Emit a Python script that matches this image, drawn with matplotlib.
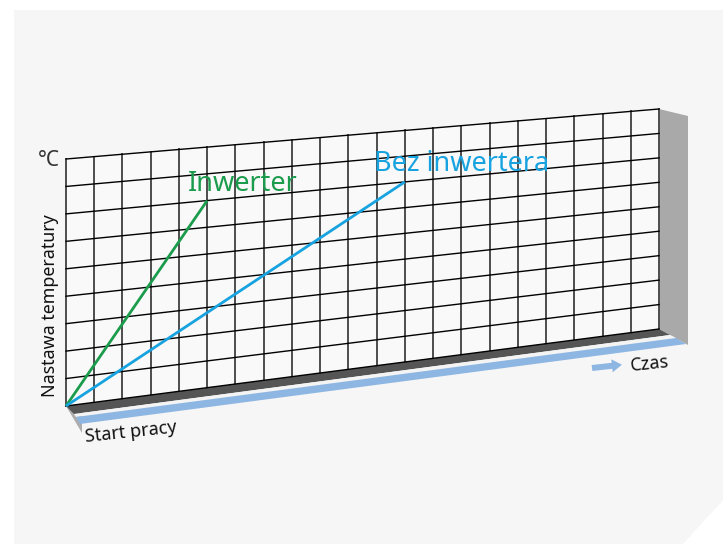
import numpy as np
import matplotlib
matplotlib.use("Agg")
import matplotlib.pyplot as plt
from matplotlib.patches import Polygon, FancyArrow

plt.rcParams['font.family'] = ['Noto Sans', 'DejaVu Sans']

# grid size (time columns x temperature rows)
n_cols = 21
n_rows = 9

# series: (time, temperature setpoint) in grid units
inwerter_t = [0, 5]
inwerter_temp = [0, 7]
bez_t = [0, 12]
bez_temp = [0, 7]

labels = {'inw': 'Inwerter', 'bez': 'Bez inwertera'}

green = '#1b9c4c'
blue = '#17a2e0'
light_blue = '#8db6e2'

# perspective of the board (pixel corners)
x_left, x_right = 66, 659
yl_bot, yl_top = 406, 159
yr_bot, yr_top = 329, 109


def proj(c, r):
    c = np.asarray(c, float)
    r = np.asarray(r, float)
    f = c / n_cols
    x = x_left + (x_right - x_left) * f
    yl = yl_bot + (yl_top - yl_bot) * r / n_rows
    yr = yr_bot + (yr_top - yr_bot) * r / n_rows
    return x, yl + (yr - yl) * f


fig = plt.figure(figsize=(7.23, 5.44), dpi=100)
ax = fig.add_axes([0, 0, 1, 1])
ax.set_xlim(0, 723)
ax.set_ylim(544, 0)
ax.axis('off')

# background panel with cut corner
ax.add_patch(Polygon([(14, 10), (723, 10), (723, 500), (683, 544), (14, 544)],
                     closed=True, facecolor='#f6f6f6', edgecolor='none', zorder=0))

# side walls
ax.add_patch(Polygon([(66, 159), (82, 173), (82, 433), (66, 406)],
                     facecolor='#adadad', edgecolor='none', zorder=1))
ax.add_patch(Polygon([(659, 109), (688, 116), (688, 345), (659, 329)],
                     facecolor='#a9a9a9', edgecolor='none', zorder=1))

# floor strips
ax.add_patch(Polygon([(66, 406), (659, 329), (670, 335), (74, 414)],
                     facecolor='#555555', edgecolor='none', zorder=2))
ax.add_patch(Polygon([(74, 414), (670, 335), (676, 338), (76, 417)],
                     facecolor='#f4f4f4', edgecolor='none', zorder=2))
ax.add_patch(Polygon([(76, 417), (676, 338), (686, 344), (80, 424)],
                     facecolor=light_blue, edgecolor='none', zorder=2))

# board face
bx, by = proj([0, n_cols, n_cols, 0], [0, 0, n_rows, n_rows])
ax.add_patch(Polygon(list(zip(bx, by)), facecolor='#f9f9f9', edgecolor='none', zorder=1.5))

# grid
for c in range(n_cols + 1):
    x, y = proj([c, c], [0, n_rows])
    ax.plot(x, y, color='#4d4d4d', lw=1.4, zorder=3)
for r in range(n_rows + 1):
    x, y = proj([0, n_cols], [r, r])
    ax.plot(x, y, color='black', lw=1.0, zorder=3)

# series lines
x, y = proj(inwerter_t, inwerter_temp)
ax.plot(x, y, color=green, lw=2.0, zorder=4, solid_capstyle='butt')
x, y = proj(bez_t, bez_temp)
ax.plot(x, y, color=blue, lw=2.0, zorder=4, solid_capstyle='butt')

# labels
ax.text(243, 184, labels['inw'], color=green, fontsize=19.5, ha='center', va='center', zorder=5)
ax.text(462, 164, labels['bez'], color=blue, fontsize=19.5, ha='center', va='center', zorder=5)
ax.text(49, 160, '°C', color='#333333', fontsize=15, ha='center', va='center', zorder=5)
ax.text(50, 306, 'Nastawa temperatury', color='#111111', fontsize=12.8, rotation=90,
        ha='center', va='center', zorder=5)
ax.text(131, 432, 'Start pracy', color='#111111', fontsize=13, rotation=6,
        ha='center', va='center', rotation_mode='anchor', zorder=5)
ax.text(650, 364, 'Czas', color='#111111', fontsize=13, rotation=6,
        ha='center', va='center', rotation_mode='anchor', zorder=5)

# time arrow
ax.add_patch(FancyArrow(592, 368, 20, -2.2, width=6, head_width=13, head_length=10,
                        length_includes_head=False, color=light_blue, lw=0, zorder=5))

fig.savefig('out.png', dpi=100)
